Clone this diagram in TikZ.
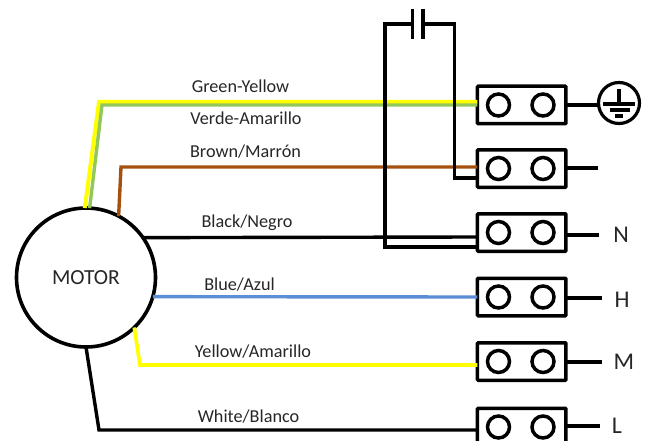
\documentclass[tikz,border=0pt]{standalone}
\usepackage{fontspec}
\setmainfont{Carlito}
\usepackage{xcolor}
\definecolor{wireyellow}{HTML}{FFFF00}
\definecolor{wiregreen}{HTML}{92C85A}
\definecolor{wirebrown}{HTML}{A5500F}
\definecolor{wireblue}{HTML}{5B8ED6}
\definecolor{labeltext}{HTML}{262626}
\tikzset{
  wire/.style={line width=3.4pt,line join=miter},
  terminalbox/.style={draw,line width=3.5pt,rounded corners=0.8pt,minimum width=88.5pt,minimum height=37.5pt,outer sep=0pt,inner sep=0pt},
  screw/.style={draw,circle,line width=3.5pt,minimum size=22pt,inner sep=0pt,outer sep=0pt},
  wirelabel/.style={font=\fontsize{18.2}{18.2}\selectfont,text=labeltext,inner sep=0pt},
  endlabel/.style={font=\fontsize{24}{24}\selectfont,text=labeltext,inner sep=0pt}
}
\begin{document}
\begin{tikzpicture}[x=1pt,y=-1pt]
\clip[use as bounding box] (0,0) rectangle (650,441);
\node[draw,circle,line width=3.6pt,minimum size=139pt,inner sep=0pt,outer sep=0pt] (motor) at (86,277.5) {};
\node[font=\fontsize{21.5}{21.5}\selectfont,text=labeltext,inner sep=0pt] (motorlabel) at (86,278) {MOTOR};
% terminals
\foreach \i/\y in {1/105,2/168.5,3/232.5,4/297,5/361.5,6/427}{
  \node[terminalbox] (t\i) at (521.7,\y) {};
  \node[screw] (s\i a) at (498.5,\y) {};
  \node[screw] (s\i b) at (543,\y) {};
}
% wires from the motor
\draw[wire,line width=4pt,wireyellow] (motor.91) -- (99,102) -- (t1.west |- 0,102);
\draw[wire,wiregreen] (motor.87) -- (102,105) -- (t1.west |- 0,105);
\draw[wire,wirebrown] (motor.62) -- (121,167) -- (t2.west |- 0,167);
\draw[wire,wireblue] (motor.-16) -- (t4.west |- 0,297);
\draw[wire,line width=3.7pt,wireyellow] (motor.-46) -- (140,365) -- (t5.west |- 0,365);
\draw[wire] (motor.35) -- (t3.west |- 0,237);
\draw[wire] (motor.-90) -- (99,430) -- (t6.west |- 0,430);
% capacitor
\coordinate (capleft) at (412.7,24);
\coordinate (capright) at (423,24);
\draw[wire] (capleft) -- (383,24);
\draw[wire] (385,24) -- (385,247) -- (t3.west |- 0,247);
\draw[wire] (capright) -- (454.5,24) -- (454.5,178) -- (t2.west |- 0,178);
\draw[wire] (412.7,9) -- (412.7,39);
\draw[wire] (423,9) -- (423,39);
% ground
\node[draw,circle,line width=3.2pt,minimum size=41pt,inner sep=0pt,outer sep=0pt] (gnd) at (619,103) {};
\draw[wire] (t1.east |- 0,105) -- (gnd.west |- 0,105);
\draw[wire] (619,89) -- (619,104);
\draw[wire] (603,104) -- (635,104);
\draw[wire] (610,110) -- (630,110);
\draw[wire] (615,116) -- (623,116);
% line ends
\coordinate (end2) at (598,168);
\node[endlabel] (labN) at (621,235) {N};
\node[endlabel] (labH) at (622,300) {H};
\node[endlabel] (labM) at (624,362) {M};
\node[endlabel] (labL) at (617,426) {L};
\draw[wire] (t2.east |- end2) -- (end2);
\draw[wire] (t3.east |- 0,235) -- (599,235);
\draw[wire] (t4.east |- 0,298) -- (602,298);
\draw[wire] (t5.east |- 0,362) -- (602,362);
\draw[wire] (t6.east |- 0,426) -- (600,426);
% labels
\node[wirelabel] at (240.5,86) {Green-Yellow};
\node[wirelabel] at (246,118) {Verde-Amarillo};
\node[wirelabel] at (245.5,152) {Brown/Marrón};
\node[wirelabel] at (247,223) {Black/Negro};
\node[wirelabel] at (239.5,285) {Blue/Azul};
\node[wirelabel] at (253,352) {Yellow/Amarillo};
\node[wirelabel] at (248.5,417) {White/Blanco};
\end{tikzpicture}
\end{document}
